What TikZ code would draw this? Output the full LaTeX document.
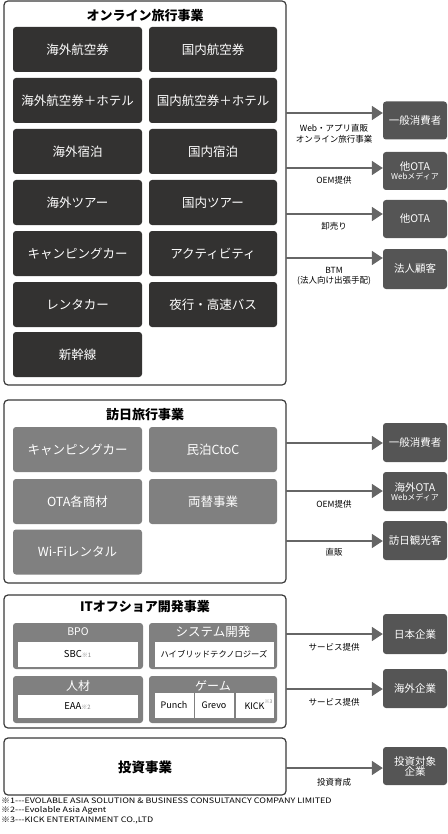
\documentclass[tikz,border=0pt]{standalone}
\usepackage{fontspec}
\usepackage{graphicx}
\setmainfont{Noto Sans CJK JP}
\usetikzlibrary{arrows.meta}
\definecolor{darkbox}{HTML}{333231}
\definecolor{graybox}{HTML}{808080}
\definecolor{tgtbox}{HTML}{555555}
\definecolor{arrowc}{HTML}{666666}
\definecolor{framec}{HTML}{3A3A3A}
\tikzset{
  frame/.style={draw=framec, line width=1.2pt, rounded corners=4pt, fill=white},
  dbox/.style={fill=darkbox, rounded corners=3pt, text=white, font=\fontsize{12.5}{14}\selectfont, minimum height=45pt, inner sep=0pt},
  gbox/.style={fill=graybox, rounded corners=3pt, text=white, font=\fontsize{12.5}{14}\selectfont, minimum height=45pt, inner sep=0pt},
  tbox/.style={fill=tgtbox, rounded corners=3pt, text=white, font=\fontsize{10.5}{12}\selectfont, minimum width=64pt, inner sep=0pt, align=center},
  wbox/.style={fill=white, draw=white, inner sep=0pt, font=\fontsize{9.5}{11}\selectfont},
  title/.style={font=\bfseries\fontsize{13}{15}\selectfont, text=black},
  lbl/.style={font=\fontsize{8.5}{10.5}\selectfont, align=center, inner sep=0pt},
  arr/.style={draw=arrowc, line width=1.8pt, -{Triangle[length=11pt,width=14pt]}, color=arrowc},
  foot/.style={font=\fontsize{7.5}{8}\selectfont, anchor=west, inner sep=0pt},
}
\begin{document}
\begin{tikzpicture}[x=1pt,y=-1pt]
\useasboundingbox (0,0) rectangle (447,834);
% ---------- Online travel ----------
\draw[frame] (4,1) rectangle (286,385);
\node[title] (t1) at (145,16) {オンライン旅行事業};
\node[dbox, minimum width=129pt] (a1) at (77.5,49.5) {海外航空券};
\node[dbox, minimum width=128pt] (b1) at (213,49.5) {国内航空券};
\node[dbox, minimum width=129pt] (a2) at (77.5,100.5) {海外航空券＋ホテル};
\node[dbox, minimum width=128pt] (b2) at (213,100.5) {国内航空券＋ホテル};
\node[dbox, minimum width=129pt] (a3) at (77.5,151.5) {海外宿泊};
\node[dbox, minimum width=128pt] (b3) at (213,151.5) {国内宿泊};
\node[dbox, minimum width=129pt] (a4) at (77.5,202.5) {海外ツアー};
\node[dbox, minimum width=128pt] (b4) at (213,202.5) {国内ツアー};
\node[dbox, minimum width=129pt] (a5) at (77.5,253.5) {キャンピングカー};
\node[dbox, minimum width=128pt] (b5) at (213,253.5) {アクティビティ};
\node[dbox, minimum width=129pt] (a6) at (77.5,304.5) {レンタカー};
\node[dbox, minimum width=128pt] (b6) at (213,304.5) {夜行・高速バス};
\node[dbox, minimum width=129pt] (a7) at (77.5,354.5) {新幹線};
% targets
\node[tbox, minimum height=38pt] (c1) at (415,120.5) {一般消費者};
\node[tbox, minimum height=38pt] (c2) at (415,171) {他OTA\\[-3pt]{\fontsize{8}{9}\selectfont Webメディア}};
\node[tbox, minimum height=38pt] (c3) at (415,219) {他OTA};
\node[tbox, minimum height=40pt] (c4) at (415,269) {法人顧客};
\coordinate (s1) at (286,113);
\coordinate (s2) at (286,168);
\coordinate (s3) at (286,214);
\coordinate (s4) at (286,258);
\draw[arr] (s1) -- (c1.west |- s1);
\draw[arr] (s2) -- (c2.west |- s2);
\draw[arr] (s3) -- (c3.west |- s3);
\draw[arr] (s4) -- (c4.west |- s4);
\node[lbl] (l1) at (334,134) {Web・アプリ直販\\オンライン旅行事業};
\node[lbl] (l2) at (334,180) {OEM提供};
\node[lbl] (l3) at (334,226) {卸売り};
\node[lbl] (l4) at (334,276) {BTM\\(法人向け出張手配)};
% ---------- Inbound ----------
\draw[frame] (4,400) rectangle (286,583);
\node[title] (t2) at (145,415) {訪日旅行事業};
\node[gbox, minimum width=129pt] (d1) at (77.5,449.5) {キャンピングカー};
\node[gbox, minimum width=128pt] (e1) at (213,449.5) {民泊CtoC};
\node[gbox, minimum width=129pt] (d2) at (77.5,501.5) {OTA各商材};
\node[gbox, minimum width=128pt] (e2) at (213,501.5) {両替事業};
\node[gbox, minimum width=129pt] (d3) at (77.5,552) {Wi-Fiレンタル};
\node[tbox, minimum height=39pt] (f1) at (415,442.5) {一般消費者};
\node[tbox, minimum height=39pt] (f2) at (415,491.5) {海外OTA\\[-3pt]{\fontsize{8}{9}\selectfont Webメディア}};
\node[tbox, minimum height=39pt] (f3) at (415,540.5) {訪日観光客};
\coordinate (u1) at (286,443);
\coordinate (u2) at (286,491);
\coordinate (u3) at (286,541);
\draw[arr] (u1) -- (f1.west |- u1);
\draw[arr] (u2) -- (f2.west |- u2);
\draw[arr] (u3) -- (f3.west |- u3);
\node[lbl] (m2) at (334,504) {OEM提供};
\node[lbl] (m3) at (334,552) {直販};
% ---------- IT offshore ----------
\draw[frame] (4,595) rectangle (286,728);
\node[title] (t3) at (145,607) {ITオフショア開発事業};
\fill[graybox, rounded corners=3pt] (13,623) rectangle (143,669);
\fill[graybox, rounded corners=3pt] (13,676) rectangle (143,723);
\fill[graybox, rounded corners=3pt] (149,623) rectangle (277,669);
\fill[graybox, rounded corners=3pt] (149,676) rectangle (277,723);
\node[text=white, font=\fontsize{10.5}{12}\selectfont] (h1) at (78,632) {BPO};
\node[text=white, font=\fontsize{12}{14}\selectfont] (h2) at (78,686) {人材};
\node[text=white, font=\fontsize{12.5}{14}\selectfont] (h3) at (213,632) {システム開発};
\node[text=white, font=\fontsize{12}{14}\selectfont] (h4) at (213,686) {ゲーム};
\node[wbox, minimum width=119pt, minimum height=24pt] (w1) at (77.5,654) {SBC{\fontsize{6}{7}\selectfont\color{gray}※1}};
\node[wbox, minimum width=119pt, minimum height=22pt] (w2) at (77.5,706) {EAA{\fontsize{6}{7}\selectfont\color{gray}※2}};
\node[wbox, minimum width=118pt, minimum height=24pt, font=\fontsize{8.3}{10}\selectfont] (w3) at (214,654) {ハイブリッドテクノロジーズ};
\node[wbox, minimum width=38pt, minimum height=24pt, font=\fontsize{9}{10}\selectfont] (w4) at (174,705) {Punch};
\node[wbox, minimum width=38pt, minimum height=24pt, font=\fontsize{9}{10}\selectfont] (w5) at (214,705) {Grevo};
\node[wbox, minimum width=37pt, minimum height=24pt, font=\fontsize{9}{10}\selectfont] (w6) at (254.5,705) {KICK\rlap{\raisebox{6pt}{\fontsize{5}{6}\selectfont\color{gray}※3}}};
\node[tbox, minimum height=40pt] (g1) at (415,634) {日本企業};
\node[tbox, minimum height=39pt] (g2) at (415,688.5) {海外企業};
\coordinate (v1) at (286,634);
\coordinate (v2) at (286,689);
\draw[arr] (v1) -- (g1.west |- v1);
\draw[arr] (v2) -- (g2.west |- v2);
\node[lbl] (n1) at (334,647) {サービス提供};
\node[lbl] (n2) at (334,702) {サービス提供};
% ---------- Investment ----------
\draw[frame] (4,738) rectangle (286,795);
\node[title, font=\bfseries\fontsize{13.5}{15}\selectfont] (t4) at (145,767) {投資事業};
\node[tbox, minimum height=38pt] (k1) at (415,766) {投資対象\\[-2pt]企業};
\coordinate (z1) at (286,768);
\draw[arr] (z1) -- (k1.west |- z1);
\node[lbl] (p1) at (334,782) {投資育成};
% ---------- Footnotes ----------
\node[foot] (fn1) at (1,801) {\scalebox{1.2}[1]{※1{-}{-}{-}EVOLABLE ASIA SOLUTION \& BUSINESS CONSULTANCY COMPANY LIMITED}};
\node[foot] (fn2) at (1,810.5) {\scalebox{1.2}[1]{※2{-}{-}{-}Evolable Asia Agent}};
\node[foot] (fn3) at (1,820) {\scalebox{1.2}[1]{※3{-}{-}{-}KICK ENTERTAINMENT CO.,LTD}};
\end{tikzpicture}
\end{document}
